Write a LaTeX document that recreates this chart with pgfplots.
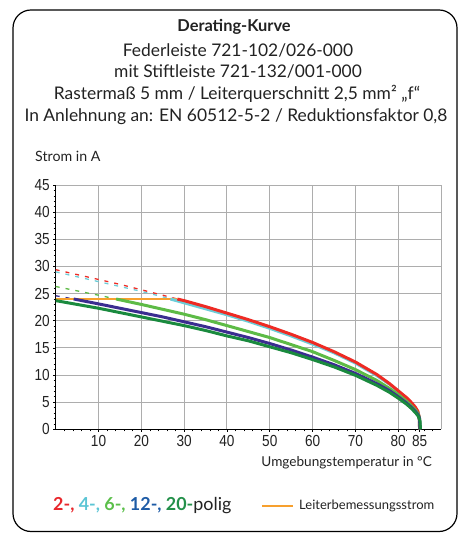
\documentclass[border=0pt]{standalone}
\usepackage{fontspec}
\setmainfont{Lato}
\newfontfamily\ticknarrow[FakeStretch=0.85]{Liberation Sans}
\usepackage{pgfplots}
\pgfplotsset{compat=1.18}
\definecolor{cred}{HTML}{EE2B24}
\definecolor{ccyan}{HTML}{6CCDD8}
\definecolor{clgreen}{HTML}{5DBB46}
\definecolor{cblue}{HTML}{3B2D90}
\definecolor{cdgreen}{HTML}{1A8A3E}
\definecolor{corange}{HTML}{F7A02E}
\definecolor{tred}{HTML}{E8262B}
\definecolor{tcyan}{HTML}{5BC5D5}
\definecolor{tlgreen}{HTML}{5BBF4A}
\definecolor{tblue}{HTML}{1D5BA6}
\definecolor{tdgreen}{HTML}{23904A}
\definecolor{ttext}{HTML}{222222}
\begin{document}
\begin{tikzpicture}
\useasboundingbox (0pt,0pt) rectangle (465pt,534pt);
\draw[line width=1.2pt, rounded corners=18pt] (13pt,2.5pt) rectangle (457pt,524pt);
\node[anchor=base, inner sep=0pt, text=ttext, font=\fontsize{16.4}{18}\selectfont\bfseries] at (234pt,502.3pt) {Derating-Kurve};
\node[anchor=base, inner sep=0pt, text=ttext, font=\fontsize{17.4}{18}\selectfont] at (238pt,477.3pt) {Federleiste 721-102/026-000};
\node[anchor=base, inner sep=0pt, text=ttext, font=\fontsize{17.4}{18}\selectfont] at (238pt,456.3pt) {mit Stiftleiste 721-132/001-000};
\node[anchor=base, inner sep=0pt, text=ttext, font=\fontsize{17.4}{18}\selectfont] at (237pt,434.7pt) {Rastermaß 5 mm / Leiterquerschnitt 2,5 mm² „f“};
\node[anchor=base, inner sep=0pt, text=ttext, font=\fontsize{17.4}{18}\selectfont] at (236pt,412.3pt) {In Anlehnung an: EN 60512-5-2 / Reduktionsfaktor 0,8};
\node[anchor=base west, inner sep=0pt, text=ttext, font=\fontsize{14.2}{16}\selectfont] at (35pt,372.3pt) {Strom in A};
\node[anchor=base east, inner sep=0pt, text=ttext, font=\fontsize{13.6}{15}\selectfont] at (432pt,67pt) {Umgebungstemperatur in °C};
\node[anchor=base west, inner sep=0pt, font=\fontsize{17.9}{20}\selectfont] at (53pt,23.3pt) {\textbf{\textcolor{tred}{2-,} \textcolor{tcyan}{4-,} \textcolor{tlgreen}{6-,} \textcolor{tblue}{12-,} \textcolor{tdgreen}{20-}}\textcolor{ttext}{polig}};
\draw[corange, line width=2pt] (262pt,28.3pt) -- (293pt,28.3pt);
\node[anchor=base west, inner sep=0pt, text=ttext, font=\fontsize{13}{14}\selectfont] at (299pt,24pt) {Leiterbemessungsstrom};
\begin{axis}[
  at={(55.7pt,104.7pt)}, anchor=south west,
  scale only axis, width=385.3pt, height=244.3pt,
  xmin=0, xmax=90, ymin=0, ymax=45,
  axis x line*=bottom, axis y line*=left,
  axis line style={-, line width=1pt, black},
  xtick={10,20,30,40,50,60,70,80,85},
  ytick={0,5,...,45},
  extra x ticks={10,20,...,90}, extra x tick labels={},
  extra x tick style={grid=major, major tick length=0pt},
  ymajorgrids=true,
  grid style={black!32, line width=0.9pt},
  minor xtick={2,4,...,88},
  minor y tick num=4,
  tick align=outside, major tick length=2.5pt, minor tick length=2pt,
  every tick/.style={black, line width=0.6pt},
  ticklabel style={font=\ticknarrow\fontsize{16}{16}\selectfont, text=ttext},
  /pgf/number format/assume math mode=true,
]
% dashed extensions
\addplot[ccyan, line width=1.3pt, dash pattern=on 4pt off 6pt] coordinates {(0,29.0)(5,28.1)(10,27.2)(15,26.3)(20,25.4)(25,24.4)(26.8,24.0)};
\addplot[cred, line width=1.3pt, dash pattern=on 4pt off 6pt] coordinates {(0,29.4)(5,28.5)(10,27.6)(15,26.7)(20,25.7)(25,24.7)(28.4,24.0)};
\addplot[clgreen, line width=1.3pt, dash pattern=on 4pt off 6pt] coordinates {(0,26.3)(5,25.5)(10,24.7)(14.1,24.0)};
\addplot[cblue, line width=1.3pt, dash pattern=on 4pt off 6pt] coordinates {(0,24.6)(4.2,24.0)};
% rated conductor current
\addplot[corange, line width=1.2pt] coordinates {(0,24)(28.4,24)};
% derating curves
\addplot[ccyan, line width=3pt] coordinates {(26.8,24.0)(30,23.3)(35,22.2)(40,21.1)(45,19.9)(50,18.6)(55,17.2)(60,15.7)(65,14.1)(70,12.2)(75,9.9)(78,8.3)(80,7.0)(82,5.6)(83,4.8)(84,3.9)(84.6,3.1)(84.9,2.2)(85.0,0)};
\addplot[cred, line width=3pt] coordinates {(28.4,24.0)(30,23.7)(35,22.6)(40,21.4)(45,20.2)(50,18.9)(55,17.5)(60,16.0)(65,14.3)(70,12.4)(75,10.1)(78,8.4)(80,7.1)(82,5.8)(83,5.0)(84,4.1)(84.6,3.3)(84.9,2.3)(85.0,0)};
\addplot[clgreen, line width=3pt] coordinates {(14.1,24.0)(20,23.0)(25,22.1)(30,21.2)(35,20.2)(40,19.1)(45,18.0)(50,16.9)(55,15.6)(60,14.3)(65,12.7)(70,11.0)(75,9.0)(78,7.5)(80,6.4)(82,5.1)(83,4.4)(84,3.6)(84.7,2.8)(85.0,2.0)(85.1,0)};
\addplot[cblue, line width=3pt] coordinates {(4.2,24.0)(10,23.1)(15,22.3)(20,21.5)(25,20.7)(30,19.8)(35,18.9)(40,17.9)(45,16.9)(50,15.8)(55,14.6)(60,13.3)(65,11.9)(70,10.3)(75,8.4)(78,7.1)(80,6.0)(82,4.8)(83,4.1)(84,3.3)(84.7,2.6)(85.0,1.9)(85.1,0)};
\addplot[cdgreen, line width=3pt] coordinates {(0,23.7)(5,23.0)(10,22.3)(15,21.5)(20,20.7)(25,19.9)(30,19.1)(35,18.2)(40,17.2)(45,16.3)(50,15.2)(55,14.1)(60,12.85)(65,11.5)(70,9.95)(75,8.1)(78,6.8)(80,5.75)(82,4.6)(83,3.9)(84,3.1)(84.7,2.4)(85.1,1.5)(85.2,0)};
\end{axis}
\end{tikzpicture}
\end{document}
